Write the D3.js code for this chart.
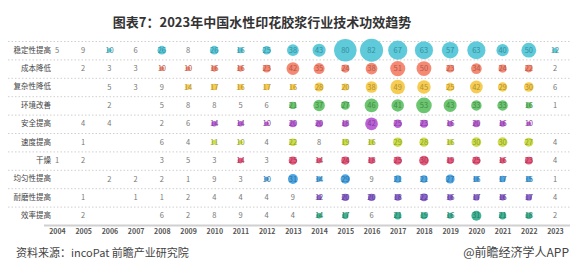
<!DOCTYPE html>
<html>
<head>
<meta charset="utf-8">
<script src="https://cdn.jsdelivr.net/npm/d3@7"></script>
<style>
  body { margin: 0; background: #fff; }
  svg text { font-family: "Noto Sans CJK SC", "Noto Sans", sans-serif; }
</style>
</head>
<body>
<div id="chart"></div>
<script>
// categories
let years = d3.range(2004, 2024)
let rows = ['稳定性提高', '成本降低', '复杂性降低', '环境改善', '安全提高', '速度提高', '干燥', '均匀性提高', '耐磨性提高', '效率提高']

// values per row, 2004..2023 (null = no patent)
let stability   = [5, 9, 10, 6, 26, 8, 26, 16, 25, 38, 43, 80, 82, 67, 63, 57, 63, 40, 50, 12]
let costDown    = [null, 2, 3, 3, 10, 10, 16, 16, 23, 42, 35, 24, 38, 51, 50, 23, 34, 24, 22, 2]
let complexity  = [null, null, 5, 3, 9, 14, 17, 16, 17, 16, 28, 20, 38, 49, 45, 25, 42, 29, 30, 6]
let environment = [null, null, 2, null, 5, 8, 8, 5, 6, 21, 37, 27, 46, 41, 53, 43, 33, 33, 16, 1]
let safety      = [null, 4, 4, null, 2, 6, 14, 14, 10, 20, 20, 18, 42, 25, 23, 16, 20, 16, 10, null]
let speed       = [null, 1, null, null, 6, 4, 11, 10, 4, 22, 8, 19, 16, 29, 28, 16, 30, 30, 27, 4]
let drying      = [1, 2, null, null, 3, 5, 3, 14, 3, 25, 14, 24, 18, 25, 30, 19, 25, 16, 23, 4]
let uniformity  = [null, null, 2, 2, 2, 1, 9, 3, 10, 31, 14, 29, 9, 21, 21, 27, 16, 17, 15, 1]
let wear        = [null, 1, null, 1, 1, 2, 4, 4, 4, 9, 12, 20, 20, 18, 22, 16, 17, 16, 17, 4]
let efficiency  = [null, 2, null, null, 6, 2, 8, 9, 4, 4, 14, 17, 6, 21, 19, 16, 31, 21, 18, 2]

let series = [stability, costDown, complexity, environment, safety, speed, drying, uniformity, wear, efficiency]
let colors = ['#4DC4D6', '#F47C65', '#F5C640', '#5CBF60', '#B452D2', '#C6DA3A', '#E2486F', '#3B9CE0', '#7F54C8', '#2DAA8A']

let title = '图表7：2023年中国水性印花胶浆行业技术功效趋势'
let source = '资料来源：incoPat 前瞻产业研究院'
let credit = '@前瞻经济学人APP'

let width = 579
let height = 278

let svg = d3.select('#chart').append('svg')
  .attr('width', width)
  .attr('height', height)

let x = d3.scalePoint()
  .domain(years)
  .range([57, 555])

let y = d3.scaleBand()
  .domain(rows)
  .range([41, 225])

let r = d3.scaleLinear()
  .domain([0, 82])
  .range([1, 11.5])

// title
svg.append('text')
  .attr('x', 262)
  .attr('y', 27)
  .attr('text-anchor', 'middle')
  .style('font-size', '13px')
  .style('font-weight', 'bold')
  .attr('fill', '#333')
  .text(title)

// dotted row separators
let seps = rows.map(d => y(d))
svg.selectAll('.sep')
  .data(seps)
  .enter().append('line')
  .attr('class', 'sep')
  .attr('x1', 8)
  .attr('x2', 570)
  .attr('y1', d => d + 0.5)
  .attr('y2', d => d + 0.5)
  .attr('stroke', '#cfcfcf')
  .attr('stroke-width', 1)
  .attr('stroke-dasharray', '1.5,2')

// bottom axis
let xAxis = d3.axisBottom(x).tickSize(0).tickPadding(4)
let xa = svg.append('g')
  .attr('transform', 'translate(0,' + y.range()[1] + ')')
  .call(xAxis)
xa.select('.domain').remove()
xa.append('line')
  .attr('x1', 44)
  .attr('x2', 570)
  .attr('y1', 0.5)
  .attr('y2', 0.5)
  .attr('stroke', '#d0d0d0')
  .attr('stroke-width', 2)
xa.selectAll('.tick text')
  .style('font-size', '7px')
  .style('font-weight', 'bold')
  .attr('fill', '#555')

// left labels
let yAxis = d3.axisLeft(y).tickSize(0).tickPadding(0)
let ya = svg.append('g')
  .attr('transform', 'translate(51,0)')
  .call(yAxis)
ya.select('.domain').remove()
ya.selectAll('.tick text')
  .style('font-size', '7.5px')
  .attr('fill', '#444')

// bubbles + labels
series.forEach((vals, i) => {
  let row = rows[i]
  let cy = y(row) + y.bandwidth() / 2
  let pts = vals.map((v, j) => ({ year: years[j], v: v })).filter(d => d.v != null)
  let g = svg.append('g')

  g.selectAll('circle')
    .data(pts)
    .enter().append('circle')
    .attr('cx', d => x(d.year))
    .attr('cy', cy)
    .attr('r', d => r(d.v))
    .attr('fill', colors[i])
    .attr('fill-opacity', d => d.v >= 10 ? 0.9 : 0)

  g.selectAll('text')
    .data(pts)
    .enter().append('text')
    .attr('x', d => x(d.year))
    .attr('y', cy)
    .attr('dy', '0.35em')
    .attr('text-anchor', 'middle')
    .style('font-size', '7.5px')
    .attr('fill', d => d.v >= 10 ? d3.color(colors[i]).darker(0.9) : '#777')
    .text(d => d.v)
})

// footer
svg.append('text')
  .attr('x', 16)
  .attr('y', 257)
  .style('font-size', '11px')
  .attr('fill', '#444')
  .text(source)

svg.append('text')
  .attr('x', 569)
  .attr('y', 257)
  .attr('text-anchor', 'end')
  .style('font-size', '12px')
  .attr('fill', '#444')
  .text(credit)
</script>
</body>
</html>
